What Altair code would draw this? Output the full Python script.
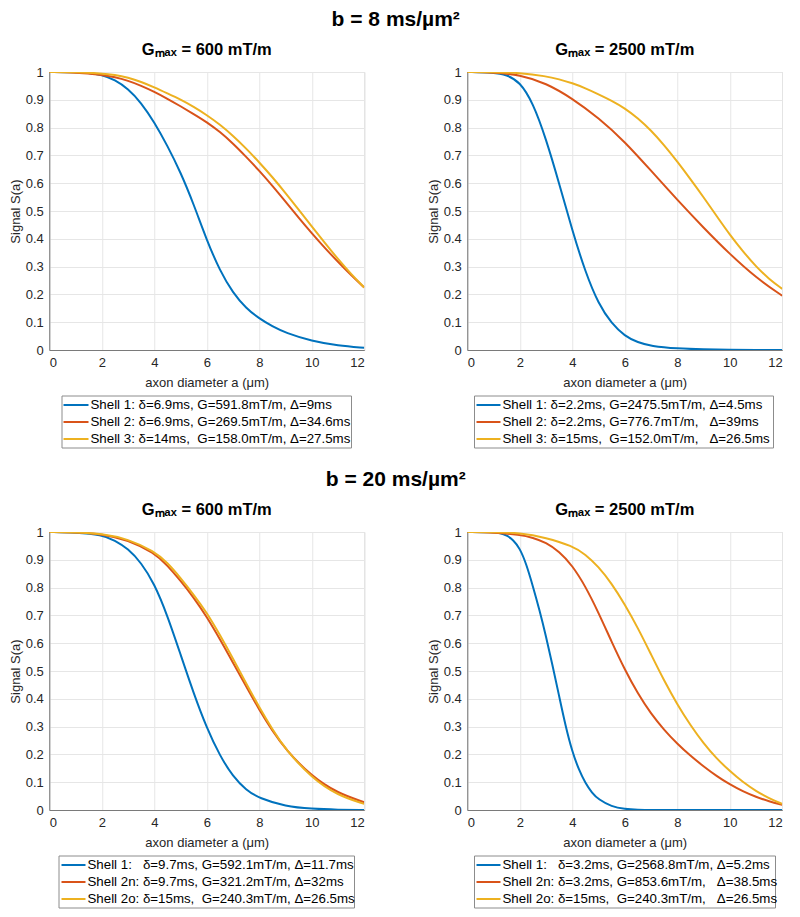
import altair as alt
import pandas as pd

COLORS = ["#0072BD", "#D95319", "#EDB120"]
FONT = "Liberation Sans"

# ---------------- b = 8 ms/um^2, Gmax = 600 mT/m ----------------
A1_x = [0, 1, 1.5, 2, 2.5, 3, 3.5, 4, 4.5, 5, 5.5, 6, 6.5, 7, 7.5, 8, 8.5, 9, 10, 11, 12]
A1_y = [1.0, 0.999, 0.997, 0.99, 0.972, 0.94, 0.89, 0.82, 0.735, 0.64, 0.525, 0.395, 0.285, 0.205, 0.15, 0.113, 0.085, 0.062, 0.032, 0.016, 0.008]
A2_x = [0, 1, 2, 2.5, 3, 3.5, 4, 4.5, 5, 5.5, 6, 6.5, 7, 7.5, 8, 8.5, 9, 9.5, 10, 10.5, 11, 11.5, 12]
A2_y = [1.0, 0.999, 0.99, 0.982, 0.969, 0.951, 0.929, 0.904, 0.877, 0.849, 0.82, 0.785, 0.743, 0.695, 0.645, 0.591, 0.534, 0.476, 0.42, 0.367, 0.317, 0.269, 0.225]
A3_x = [0, 1, 2, 2.5, 3, 3.5, 4, 4.5, 5, 5.5, 6, 6.5, 7, 7.5, 8, 8.5, 9, 9.5, 10, 10.5, 11, 11.5, 12]
A3_y = [1.0, 1.0, 0.995, 0.99, 0.98, 0.965, 0.945, 0.923, 0.901, 0.875, 0.845, 0.811, 0.771, 0.725, 0.675, 0.622, 0.565, 0.505, 0.445, 0.385, 0.327, 0.273, 0.225]
A_labels = ["Shell 1: δ=6.9ms, G=591.8mT/m, Δ=9ms",
            "Shell 2: δ=6.9ms, G=269.5mT/m, Δ=34.6ms",
            "Shell 3: δ=14ms,\u00a0 G=158.0mT/m, Δ=27.5ms"]

# ---------------- b = 8 ms/um^2, Gmax = 2500 mT/m ----------------
B1_x = [0, 1, 1.5, 2, 2.5, 3, 3.5, 4, 4.5, 5, 5.5, 6, 6.5, 7, 8, 9, 10, 11, 12]
B1_y = [1.0, 0.998, 0.99, 0.965, 0.89, 0.76, 0.60, 0.43, 0.28, 0.165, 0.095, 0.05, 0.027, 0.014, 0.005, 0.002, 0.001, 0.0, 0.0]
B2_x = [0, 1, 2, 3, 4, 5, 6, 7, 8, 9, 10, 11, 12]
B2_y = [1.0, 0.999, 0.99, 0.96, 0.905, 0.835, 0.75, 0.645, 0.54, 0.44, 0.345, 0.26, 0.195]
B3_x = [0, 1, 2, 3, 3.5, 4, 4.5, 5, 5.5, 6, 6.5, 7, 7.5, 8, 8.5, 9, 9.5, 10, 10.5, 11, 11.5, 12]
B3_y = [1.0, 1.0, 0.997, 0.985, 0.974, 0.96, 0.942, 0.92, 0.897, 0.87, 0.834, 0.79, 0.737, 0.678, 0.615, 0.55, 0.482, 0.415, 0.355, 0.30, 0.255, 0.22]
B_labels = ["Shell 1: δ=2.2ms, G=2475.5mT/m, Δ=4.5ms",
            "Shell 2: δ=2.2ms, G=776.7mT/m,\u00a0\u00a0 Δ=39ms",
            "Shell 3: δ=15ms,\u00a0 G=152.0mT/m,\u00a0\u00a0 Δ=26.5ms"]

# ---------------- b = 20 ms/um^2, Gmax = 600 mT/m ----------------
C1_x = [0, 1, 2, 2.5, 3, 3.5, 4, 4.5, 5, 5.5, 6, 6.5, 7, 7.5, 8, 9, 10, 11, 12]
C1_y = [1.0, 0.998, 0.99, 0.97, 0.94, 0.89, 0.815, 0.70, 0.56, 0.42, 0.295, 0.195, 0.12, 0.072, 0.042, 0.013, 0.004, 0.001, 0.0]
C2_x = [0, 1, 2, 3, 4, 4.5, 5, 5.5, 6, 6.5, 7, 7.5, 8, 8.5, 9, 10, 11, 12]
C2_y = [1.0, 0.999, 0.993, 0.972, 0.925, 0.88, 0.825, 0.765, 0.695, 0.615, 0.53, 0.445, 0.36, 0.285, 0.218, 0.12, 0.06, 0.028]
C3_x = [0, 1, 2, 3, 4, 4.5, 5, 5.5, 6, 6.5, 7, 7.5, 8, 8.5, 9, 10, 11, 12]
C3_y = [1.0, 0.999, 0.994, 0.975, 0.93, 0.89, 0.835, 0.775, 0.71, 0.63, 0.545, 0.455, 0.37, 0.29, 0.218, 0.115, 0.052, 0.022]
C_labels = ["Shell 1:\u00a0\u00a0 δ=9.7ms, G=592.1mT/m, Δ=11.7ms",
            "Shell 2n: δ=9.7ms, G=321.2mT/m, Δ=32ms",
            "Shell 2o: δ=15ms,\u00a0 G=240.3mT/m, Δ=26.5ms"]

# ---------------- b = 20 ms/um^2, Gmax = 2500 mT/m ----------------
D1_x = [0, 1, 1.25, 1.5, 1.75, 2, 2.25, 2.5, 2.75, 3, 3.25, 3.5, 3.75, 4, 4.25, 4.5, 4.75, 5, 5.5, 6, 6.5, 7, 8, 9, 10, 11, 12]
D1_y = [1.0, 0.999, 0.996, 0.988, 0.972, 0.942, 0.885, 0.805, 0.72, 0.625, 0.52, 0.41, 0.30, 0.21, 0.145, 0.097, 0.062, 0.038, 0.012, 0.004, 0.001, 0.0, 0.0, 0.0, 0.0, 0.0, 0.0]
D2_x = [0, 1, 2, 2.5, 3, 3.5, 4, 4.5, 5, 5.5, 6, 6.5, 7, 7.5, 8, 8.5, 9, 9.5, 10, 10.5, 11, 11.5, 12]
D2_y = [1.0, 0.999, 0.99, 0.98, 0.962, 0.93, 0.88, 0.805, 0.71, 0.605, 0.505, 0.418, 0.346, 0.288, 0.238, 0.195, 0.157, 0.122, 0.092, 0.067, 0.047, 0.031, 0.019]
D3_x = [0, 1, 2, 3, 4, 4.5, 5, 5.5, 6, 6.5, 7, 7.5, 8, 8.5, 9, 9.5, 10, 10.5, 11, 11.5, 12]
D3_y = [1.0, 1.0, 0.997, 0.98, 0.95, 0.92, 0.875, 0.815, 0.74, 0.655, 0.56, 0.465, 0.38, 0.305, 0.24, 0.185, 0.14, 0.10, 0.068, 0.042, 0.022]
D_labels = ["Shell 1:\u00a0\u00a0 δ=3.2ms, G=2568.8mT/m, Δ=5.2ms",
            "Shell 2n: δ=3.2ms, G=853.6mT/m,\u00a0\u00a0 Δ=38.5ms",
            "Shell 2o: δ=15ms,\u00a0 G=240.3mT/m,\u00a0\u00a0 Δ=26.5ms"]

X_TICKS = [0, 2, 4, 6, 8, 10, 12]
Y_TICKS = [0, 0.1, 0.2, 0.3, 0.4, 0.5, 0.6, 0.7, 0.8, 0.9, 1]

PW, PH = 315, 278


def make_df(series):
    rows = []
    for k, (xs, ys) in enumerate(series):
        for x, y in zip(xs, ys):
            rows.append({"a": x, "S": y, "k": k})
    return pd.DataFrame(rows)


def color_enc():
    return alt.Color("k:N", scale=alt.Scale(domain=[0, 1, 2], range=COLORS), legend=None)


def panel(series, title, labels, box):
    df = make_df(series)
    plot = alt.Chart(df).mark_line(strokeWidth=2, interpolate="basis", clip=True).encode(
        x=alt.X("a:Q", scale=alt.Scale(domain=[0, 12], nice=False),
                axis=alt.Axis(values=X_TICKS, title="axon diameter a (μm)")),
        y=alt.Y("S:Q", scale=alt.Scale(domain=[0, 1], nice=False),
                axis=alt.Axis(values=Y_TICKS, format="~g", title="Signal S(a)")),
        color=color_enc(),
        detail="k:N",
    ).properties(
        width=PW, height=PH,
        title=alt.TitleParams(title, fontSize=16.5, fontWeight="bold", font=FONT,
                              anchor="middle", frame="group", offset=8, color="#000000"),
        view=alt.ViewBackground(stroke="#d4d4d4"),
    )

    bl, br, ll, lr, tx = box
    ldf = pd.DataFrame({"row": [0, 1, 2], "k": [0, 1, 2], "label": labels})
    rowy = alt.Y("row:Q", scale=alt.Scale(domain=[0, 2], range=[11, 45]), axis=None)
    frame = alt.Chart(pd.DataFrame({"d": [0]})).mark_rect(
        fill="white", stroke="#8c8c8c", strokeWidth=1
    ).encode(x=alt.value(bl), x2=alt.value(br), y=alt.value(2), y2=alt.value(54))
    rules = alt.Chart(ldf).mark_rule(strokeWidth=2).encode(
        x=alt.value(ll), x2=alt.value(lr), y=rowy, color=color_enc())
    texts = alt.Chart(ldf).mark_text(align="left", baseline="middle", fontSize=13.3,
                                     font=FONT, color="#000000").encode(
        x=alt.value(tx), y=rowy, text="label:N")
    legend = alt.layer(frame, rules, texts).properties(
        width=PW, height=56, view=alt.ViewBackground(stroke=None))
    return alt.vconcat(plot, legend, spacing=4, center=True)


G600 = "Gₘₐₓ = 600 mT/m"
G2500 = "Gₘₐₓ = 2500 mT/m"

pA = panel([(A1_x, A1_y), (A2_x, A2_y), (A3_x, A3_y)], G600, A_labels, (12.5, 302, 14, 39, 41))
pB = panel([(B1_x, B1_y), (B2_x, B2_y), (B3_x, B3_y)], G2500, B_labels, (7, 306, 9, 33, 35))
pC = panel([(C1_x, C1_y), (C2_x, C2_y), (C3_x, C3_y)], G600, C_labels, (9.5, 305, 12, 36, 38))
pD = panel([(D1_x, D1_y), (D2_x, D2_y), (D3_x, D3_y)], G2500, D_labels, (7, 308, 9, 33, 35))

row1 = alt.hconcat(pA, pB, spacing=61).properties(
    title=alt.TitleParams("b = 8 ms/µm²", fontSize=21, fontWeight="bold", font=FONT,
                          anchor="middle", color="#000000", offset=11.5))
row2 = alt.hconcat(pC, pD, spacing=61).properties(
    title=alt.TitleParams("b = 20 ms/µm²", fontSize=21, fontWeight="bold", font=FONT,
                          anchor="middle", color="#000000", offset=11.5))

chart = alt.vconcat(row1, row2, spacing=18).configure(
    background="white", padding=0
).configure_axis(
    labelFont=FONT, titleFont=FONT, labelFontSize=13, titleFontSize=13,
    labelColor="#262626", titleColor="#262626", titleFontWeight="normal",
    gridColor="#e6e6e6", gridWidth=1, domainColor="#7a7a7a", ticks=False, tickSize=0,
).configure_axisY(labelPadding=6, titlePadding=3).configure_axisX(labelPadding=6, titlePadding=7)

chart.save("out.html", embed_options={"renderer": "svg", "actions": False})
